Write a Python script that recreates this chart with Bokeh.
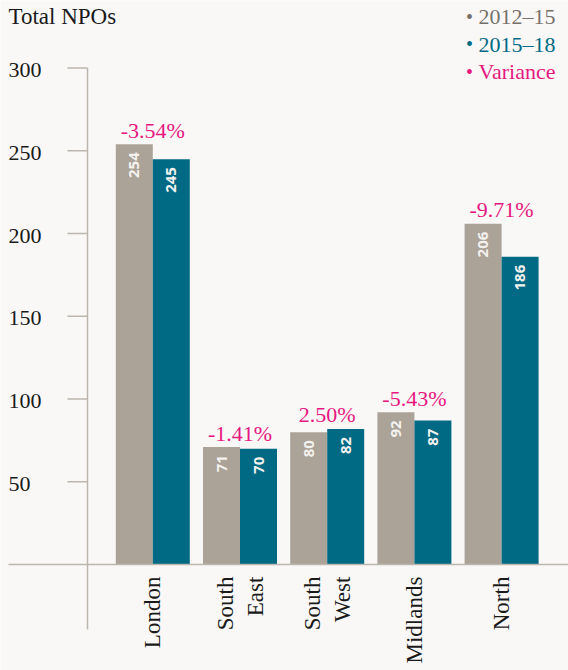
import math
from bokeh.plotting import figure
from bokeh.models import ColumnDataSource, Range1d, Label
from bokeh.transform import dodge
from bokeh.core.properties import value
from bokeh.embed import file_html
from bokeh.resources import INLINE

# ---- data ----
regions = ["London", "South\nEast", "South\nWest", "Midlands", "North"]
npo_2012_15 = [254, 71, 80, 92, 206]
npo_2015_18 = [245, 70, 82, 87, 186]
variance = ["-3.54%", "-1.41%", "2.50%", "-5.43%", "-9.71%"]
y_ticks = [50, 100, 150, 200, 250, 300]
legend_labels = ["2012\u201315", "2015\u201318", "Variance"]
title_text = "Total NPOs"

# ---- style ----
BG = "#f9f8f7"
GREY = "#aba298"
TEAL = "#006a84"
PINK = "#e6177f"
AXIS = "#bdb6ae"
INK = "#1a1a1a"
LEGEND_COLORS = ["#77716b", TEAL, PINK]
SERIF = "Liberation Serif"
SANS = "Open Sans"

W, H = 568, 670
X0_PX, GROUP_PX = 152.3, 87.2     # first group centre, group spacing (px)
ZERO_PX, UNIT_PX = 564.1, 1.655   # y of value 0 (px from top), px per unit
BAR_W = 37.0 / GROUP_PX

def xd(px):
    return (px - X0_PX) / GROUP_PX

def yd(py):
    return (ZERO_PX - py) / UNIT_PX

p = figure(width=W, height=H, output_backend="svg", toolbar_location=None,
           x_range=Range1d(xd(0), xd(W)), y_range=Range1d(yd(H), yd(0)),
           x_axis_location=None, y_axis_location=None, min_border=0,
           background_fill_color=BG, border_fill_color=BG, outline_line_color=None)
p.grid.visible = False

idx = list(range(len(regions)))
src = ColumnDataSource(dict(
    x=idx, region=regions, a=npo_2012_15, b=npo_2015_18,
    a_lbl=[str(v) for v in npo_2012_15], b_lbl=[str(v) for v in npo_2015_18],
    top=[max(a, b) for a, b in zip(npo_2012_15, npo_2015_18)], var=variance))

# bars
p.vbar(x=dodge("x", -BAR_W / 2, range=p.x_range), top="a", bottom=0, width=BAR_W,
       source=src, fill_color=GREY, line_color=None)
p.vbar(x=dodge("x", BAR_W / 2, range=p.x_range), top="b", bottom=0, width=BAR_W,
       source=src, fill_color=TEAL, line_color=None)

# value labels inside bars
for off, col in ((-BAR_W / 2, "a"), (BAR_W / 2, "b")):
    p.text(x=dodge("x", off, range=p.x_range), y=col, text=col + "_lbl", source=src,
           angle=math.pi / 2, text_align="right", text_baseline="middle", y_offset=8,
           text_color="#f4f2ee", text_font=value(SANS), text_font_style="bold",
           text_font_size="15px")

# variance labels
p.text(x="x", y="top", text="var", source=src, text_align="center",
       text_baseline="alphabetic", y_offset=-14, text_color=PINK,
       text_font=value(SERIF), text_font_size="22px")

# baseline
p.segment(x0=[xd(8)], x1=[xd(W)], y0=[0], y1=[0], line_color=AXIS, line_width=1.5)

# y axis (drawn)
ax = xd(87)
p.segment(x0=[ax], x1=[ax], y0=[y_ticks[-1]], y1=[yd(629)], line_color=AXIS, line_width=1.5)
p.ray(x=[ax] * len(y_ticks), y=y_ticks, length=20, length_units="screen", angle=math.pi,
      line_color=AXIS, line_width=1.5)
p.text(x=[ax] * len(y_ticks), y=y_ticks, text=[str(t) for t in y_ticks], x_offset=-79,
       y_offset=2, text_align="left", text_baseline="middle", text_color=INK,
       text_font=value(SERIF), text_font_size="22px")

# category labels
p.text(x="x", y=0, text="region", source=src, angle=math.pi / 2, text_align="right",
       text_baseline="middle", y_offset=12, text_color=INK, text_font=value(SERIF),
       text_font_size="23px", text_line_height=1.2)

# title
p.add_layout(Label(x=8, y=H - 16, x_units="screen", y_units="screen", text=title_text,
                   text_font=SERIF, text_font_size="23px", text_color=INK,
                   text_baseline="middle", text_align="left"))

# legend
for i, (lab, col) in enumerate(zip(legend_labels, LEGEND_COLORS)):
    yy = H - (16 + 27.5 * i)
    p.add_layout(Label(x=469, y=yy, x_units="screen", y_units="screen", text="\u2022",
                       text_font=SERIF, text_font_size="20px", text_color=col,
                       text_baseline="middle", text_align="center"))
    p.add_layout(Label(x=478, y=yy, x_units="screen", y_units="screen", text=lab,
                       text_font=SERIF, text_font_size="22px", text_color=col,
                       text_baseline="middle", text_align="left"))

open("out.html", "w").write(file_html(p, INLINE))
